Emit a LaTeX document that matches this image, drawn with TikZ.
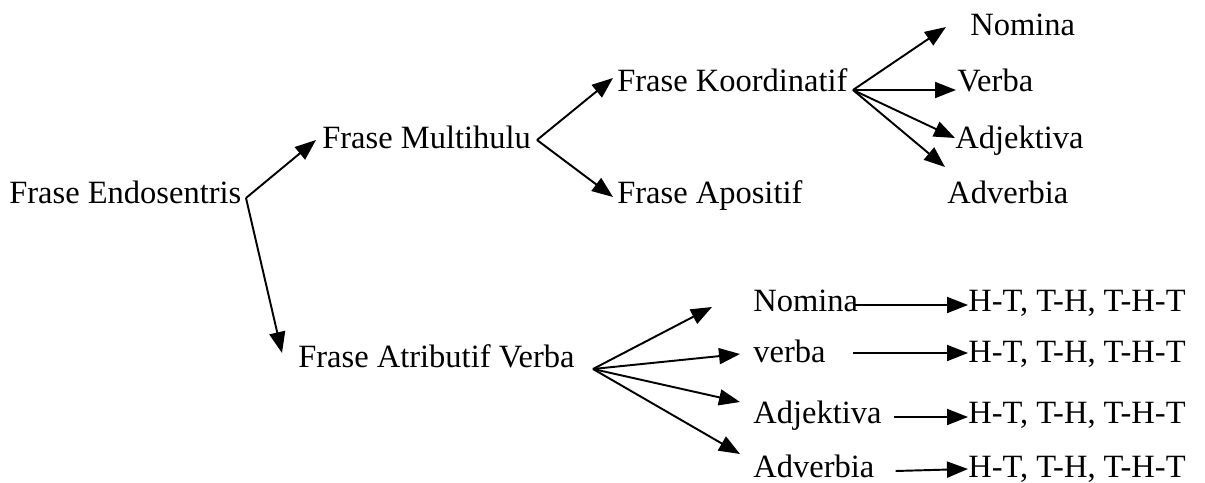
\documentclass[tikz,border=0pt]{standalone}
\usepackage{fontspec}
\setmainfont{Liberation Serif}
\usepackage{tikz}
\usetikzlibrary{arrows.meta}

\begin{document}
\begin{tikzpicture}[
  x=0.02cm, y=-0.02cm,
  every node/.style={
    anchor=base west, inner sep=0pt,
    font=\fontsize{18.5}{22}\selectfont
  },
  arr/.style={line width=1.1pt, -{Triangle[length=0.42cm,width=0.32cm]}}
]
\useasboundingbox (0,0) rectangle (1205,483);

\node (fe) at (9,204) {Frase Endosentris};
\node (fm) at (322,149) {Frase Multihulu};
\node (fk) at (617,92) {Frase Koordinatif};
\node (fap) at (617,204) {Frase Apositif};
\node (kn) at (970,36) {Nomina};
\node (kv) at (957,92) {Verba};
\node (kadj) at (955,149) {Adjektiva};
\node (kadv) at (947,204) {Adverbia};
\node (fav) at (298,367) {Frase Atributif Verba};
\node (an) at (753,312) {Nomina};
\node (av) at (753,362) {verba};
\node (aadj) at (753,423) {Adjektiva};
\node (aadv) at (753,477) {Adverbia};
\node (p1) at (968,312) {H-T, T-H, T-H-T};
\node (p2) at (968,362) {H-T, T-H, T-H-T};
\node (p3) at (968,423) {H-T, T-H, T-H-T};
\node (p4) at (968,477) {H-T, T-H, T-H-T};

% titik cabang
\coordinate (v0) at (246,198);
\coordinate (v1) at (537,140);
\coordinate (v2) at (853,90);
\coordinate (v3) at (593,369);

\draw[arr] (v0) -- ([shift={(-6,-9)}]fm.base west);
\draw[arr] (v0) -- ([shift={(-16,-14)}]fav.base west);
\draw[arr] (v1) -- ([shift={(-4,-14)}]fk.base west);
\draw[arr] (v1) -- ([shift={(-4,-7)}]fap.base west);
\draw[arr] (v2) -- ([shift={(-24,-9)}]kn.base west);
\draw[arr] (v2) -- ([shift={(-1,-2)}]kv.base west);
\draw[arr] (v2) -- ([shift={(0,-11)}]kadj.base west);
\draw[arr] (v2) -- ([shift={(-2,-37)}]kadv.base west);
\draw[arr] (v3) -- ([shift={(-41,-5)}]an.base west);
\draw[arr] (v3) -- ([shift={(-13,-8)}]av.base west);
\draw[arr] (v3) -- ([shift={(-13,-21)}]aadj.base west);
\draw[arr] (v3) -- ([shift={(-13,-23)}]aadv.base west);

\draw[arr] ([shift={(-5,-7)}]an.base east) -- ([shift={(0,-7)}]p1.base west);
\draw[arr] ([shift={(27,-9)}]av.base east) -- ([shift={(0,-9)}]p2.base west);
\draw[arr] ([shift={(12,-6)}]aadj.base east) -- ([shift={(0,-6)}]p3.base west);
\draw[arr] ([shift={(21,-6)}]aadv.base east) -- ([shift={(0,-8)}]p4.base west);
\end{tikzpicture}
\end{document}
